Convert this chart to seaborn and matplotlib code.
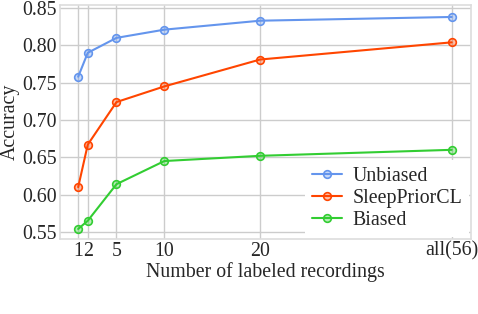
import pandas as pd
import seaborn as sns
import matplotlib.pyplot as plt
from matplotlib.colors import to_rgba

# numero di registrazioni etichettate (all(56) disegnato in posizione 40)
n_pos = [1, 2, 5, 10, 20, 40]
tick_labels = ["1", "2", "5", "10", "20", "all(56)"]

unbiased = [0.758, 0.790, 0.810, 0.821, 0.833, 0.838]
sleepprior = [0.610, 0.667, 0.724, 0.745, 0.781, 0.804]
biased = [0.554, 0.565, 0.614, 0.645, 0.652, 0.660]

series = ["Unbiased", "SleepPriorCL", "Biased"]
colori = {"Unbiased": "#6495ED", "SleepPriorCL": "#FF4500", "Biased": "#32CD32"}

data = pd.DataFrame({
    "N": n_pos * 3,
    "Accuracy": unbiased + sleepprior + biased,
    "metodo": [s for s in series for _ in n_pos],
})

sns.set_theme(style="whitegrid")
plt.rcParams["font.family"] = ["Liberation Serif", "DejaVu Serif"]
fs = 14.3

fig = plt.figure(figsize=(4.78, 3.14), dpi=100)
ax = fig.add_axes([0.1255, 0.239, 0.8595, 0.745])

sns.lineplot(x="N", y="Accuracy", hue="metodo", data=data, palette=colori,
             marker="o", markersize=5.5, markeredgewidth=1.2, linewidth=1.5,
             ax=ax)


def stile_marker(line):
    c = line.get_color()
    line.set_markerfacecolor(to_rgba(c, 0.35))
    line.set_markeredgecolor(c)


for line in ax.lines:
    stile_marker(line)

ax.set_xticks(n_pos)
ax.set_xticklabels(tick_labels, fontsize=fs)
ax.set_yticks([0.55, 0.60, 0.65, 0.70, 0.75, 0.80, 0.85])
ax.set_yticklabels(["0.55", "0.60", "0.65", "0.70", "0.75", "0.80", "0.85"], fontsize=fs)
ax.set_xlim(-0.9, 42)
ax.set_ylim(0.5406, 0.854)
ax.tick_params(axis="both", pad=2, length=0)
ax.set_xlabel("Number of labeled recordings", fontsize=fs, labelpad=1)
ax.set_ylabel("Accuracy", fontsize=fs, labelpad=2)
for s in ax.spines.values():
    s.set_color("#dddddd")
    s.set_linewidth(1.2)

leg = ax.legend(loc="lower right", bbox_to_anchor=(1.0, 0.0), fontsize=fs,
                frameon=True, facecolor="white", edgecolor="none", framealpha=1,
                handlelength=1.5, labelspacing=0.15, borderaxespad=0.1,
                borderpad=0.35, handletextpad=0.5)
for h in leg.get_lines():
    stile_marker(h)

plt.savefig("out.png", dpi=100)
